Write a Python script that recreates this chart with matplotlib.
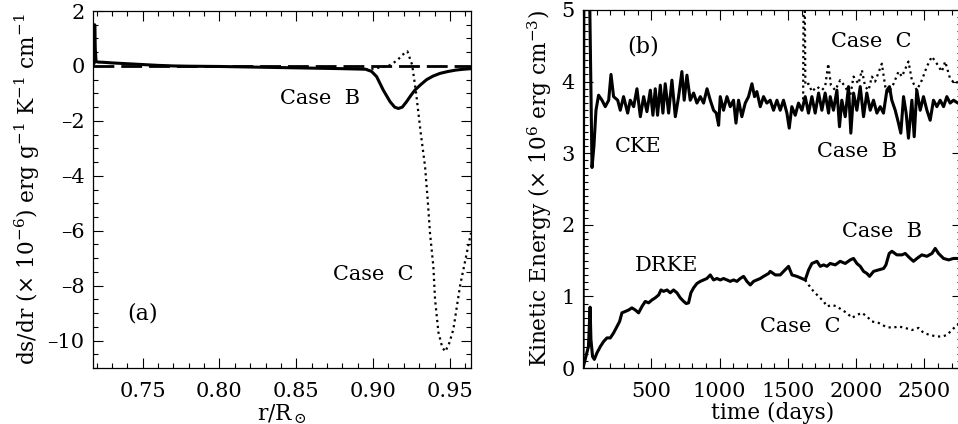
import matplotlib
matplotlib.use("Agg")
import matplotlib.pyplot as plt
from matplotlib.ticker import MultipleLocator

plt.rcParams['font.family'] = ['DejaVu Serif']
plt.rcParams['mathtext.fontset'] = 'dejavuserif'

# ---------------- Panel (a) data ----------------
r_caseB = [0.7177, 0.7185, 0.7188, 0.7192, 0.7197, 0.7210, 0.7250, 0.7300, 0.7400,
           0.7500, 0.7600, 0.7700, 0.7800, 0.8000, 0.8200, 0.8400, 0.8600, 0.8800,
           0.8950, 0.8990, 0.9023, 0.9066, 0.9110, 0.9140, 0.9164, 0.9190, 0.9218,
           0.9245, 0.9272, 0.9310, 0.9348, 0.9390, 0.9436, 0.9490, 0.9540, 0.9590, 0.9637]
dsdr_caseB = [0.05, 0.10, 1.50, 0.60, 0.16, 0.14, 0.13, 0.11, 0.08,
              0.05, 0.02, 0.00, -0.01, -0.02, -0.04, -0.06, -0.08, -0.10,
              -0.12, -0.20, -0.39, -0.88, -1.30, -1.50, -1.55, -1.50, -1.30,
              -1.08, -0.88, -0.68, -0.50, -0.37, -0.27, -0.20, -0.15, -0.12, -0.10]

r_caseC = [0.8950, 0.9000, 0.9050, 0.9100, 0.9130, 0.9160, 0.9190, 0.9223, 0.9254,
           0.9280, 0.9310, 0.9338, 0.9355, 0.9370, 0.9392, 0.9403, 0.9425, 0.9450,
           0.9470, 0.9495, 0.9522, 0.9566, 0.9610, 0.9637]
dsdr_caseC = [-0.12, -0.10, -0.05, 0.00, 0.10, 0.22, 0.40, 0.53, 0.04,
              -1.00, -2.45, -3.66, -4.87, -6.08, -7.30, -8.50, -9.70, -10.25,
              -10.40, -10.10, -9.60, -8.00, -6.80, -6.08]

ref_level = 0.0

# ---------------- Panel (b) data ----------------
t_cke_B = [0, 15, 35, 50, 66, 80, 95, 114, 139, 163, 188, 205, 224, 254, 273, 297,
           327, 346, 371, 395, 420, 444, 468, 493, 512, 529, 546, 566, 585, 602, 627,
           651, 676, 700, 724, 741, 761, 785, 810, 834, 859, 883, 908, 932, 956, 976,
           993, 1005, 1029, 1054, 1078, 1102, 1120, 1139, 1163, 1188, 1212, 1237,
           1256, 1273, 1298, 1322, 1346, 1371, 1395, 1420, 1444, 1468, 1493, 1510,
           1529, 1554, 1578, 1603, 1627, 1651, 1676, 1700, 1725, 1749, 1773, 1798,
           1810, 1834, 1859, 1878, 1895, 1920, 1944, 1961, 1981, 2005, 2030, 2054,
           2078, 2103, 2127, 2152, 2176, 2200, 2225, 2244, 2261, 2286, 2310, 2327,
           2347, 2366, 2383, 2408, 2425, 2444, 2469, 2493, 2518, 2542, 2566, 2591,
           2615, 2640, 2664, 2688, 2713, 2745, 2780]
cke_B = [0.0, 12.0, 9.0, 5.0, 2.80, 3.10, 3.60, 3.81, 3.74, 3.65, 3.74, 4.10, 3.79,
         3.74, 3.60, 3.79, 3.56, 3.74, 3.65, 3.90, 3.51, 3.79, 3.58, 3.88, 3.53,
         3.90, 3.53, 3.95, 3.56, 3.97, 3.56, 4.02, 3.51, 3.79, 4.14, 3.74, 4.09,
         3.74, 3.84, 3.70, 3.79, 3.70, 3.90, 3.74, 3.60, 3.56, 3.39, 3.79, 3.60,
         3.79, 3.65, 3.74, 3.42, 3.74, 3.51, 3.70, 3.79, 3.97, 3.79, 3.86, 3.65,
         3.79, 3.70, 3.74, 3.60, 3.74, 3.60, 3.74, 3.56, 3.35, 3.65, 3.53, 3.70,
         3.60, 3.79, 3.56, 3.79, 3.56, 3.84, 3.60, 3.84, 3.56, 3.79, 3.60, 3.88,
         3.37, 3.74, 3.51, 3.93, 3.28, 3.84, 3.60, 3.93, 3.51, 3.84, 3.60, 3.74,
         3.56, 3.65, 3.56, 3.88, 3.93, 3.74, 3.60, 3.42, 3.28, 3.79, 3.56, 3.21,
         3.74, 3.23, 3.88, 3.60, 3.79, 3.60, 3.46, 3.74, 3.65, 3.74, 3.65, 3.79,
         3.70, 3.74, 3.70, 3.72]

t_cke_C = [1612, 1616, 1622, 1628, 1651, 1676, 1712, 1749, 1773, 1796, 1815, 1847,
           1883, 1920, 1956, 1981, 2017, 2042, 2066, 2091, 2115, 2139, 2188, 2213,
           2237, 2274, 2310, 2335, 2383, 2408, 2444, 2481, 2518, 2554, 2591, 2627,
           2652, 2688, 2725, 2780]
cke_C = [3.75, 5.60, 5.60, 3.95, 3.97, 3.86, 3.93, 3.88, 3.93, 4.25, 3.95, 3.88,
         4.02, 3.93, 3.79, 4.07, 3.97, 4.16, 3.93, 3.88, 4.07, 4.00, 4.25, 3.93,
         3.84, 3.97, 4.14, 4.07, 4.28, 4.02, 3.88, 4.02, 4.21, 4.35, 4.25, 4.14,
         4.28, 4.04, 3.97, 4.05]

t_drke_B = [0, 40, 52, 58, 70, 83, 102, 127, 151, 175, 200, 224, 249, 268, 285, 310,
            334, 358, 383, 407, 432, 456, 480, 505, 529, 554, 571, 590, 615, 639,
            663, 688, 712, 737, 756, 773, 790, 810, 834, 859, 883, 907, 932, 956,
            981, 1005, 1029, 1054, 1078, 1103, 1127, 1151, 1176, 1200, 1225, 1249,
            1273, 1298, 1322, 1359, 1371, 1408, 1444, 1469, 1505, 1530, 1566, 1603,
            1627, 1652, 1676, 1713, 1737, 1762, 1786, 1810, 1847, 1883, 1920, 1957,
            1981, 2005, 2030, 2054, 2079, 2098, 2128, 2164, 2201, 2218, 2242, 2262,
            2298, 2335, 2359, 2396, 2420, 2445, 2481, 2518, 2555, 2579, 2603, 2640,
            2677, 2713, 2745, 2780]
drke_B = [0.0, 0.30, 0.85, 0.40, 0.16, 0.12, 0.21, 0.30, 0.37, 0.42, 0.42, 0.49,
          0.58, 0.65, 0.77, 0.79, 0.81, 0.84, 0.81, 0.77, 0.86, 0.93, 0.91, 0.95,
          0.98, 1.02, 1.09, 1.07, 1.09, 1.05, 1.09, 1.05, 0.98, 0.93, 0.90, 0.91,
          1.05, 1.12, 1.18, 1.21, 1.23, 1.25, 1.30, 1.23, 1.25, 1.23, 1.25, 1.23,
          1.21, 1.23, 1.21, 1.25, 1.28, 1.21, 1.16, 1.21, 1.23, 1.25, 1.28, 1.32,
          1.35, 1.30, 1.30, 1.35, 1.42, 1.30, 1.28, 1.25, 1.23, 1.37, 1.46, 1.49,
          1.42, 1.44, 1.42, 1.46, 1.44, 1.49, 1.46, 1.51, 1.53, 1.46, 1.42, 1.35,
          1.32, 1.28, 1.35, 1.37, 1.39, 1.44, 1.60, 1.63, 1.58, 1.58, 1.60, 1.53,
          1.49, 1.53, 1.58, 1.56, 1.60, 1.67, 1.60, 1.53, 1.51, 1.53, 1.53, 1.52]

t_drke_C = [1627, 1652, 1688, 1725, 1762, 1786, 1823, 1859, 1896, 1932, 1969, 2005,
            2042, 2079, 2115, 2164, 2213, 2262, 2310, 2359, 2408, 2457, 2494, 2542,
            2591, 2628, 2664, 2701, 2738, 2780]
drke_C = [1.23, 1.16, 1.07, 1.00, 0.93, 0.86, 0.88, 0.86, 0.81, 0.77, 0.70, 0.74,
          0.77, 0.72, 0.65, 0.63, 0.58, 0.56, 0.58, 0.56, 0.53, 0.56, 0.49, 0.46,
          0.44, 0.44, 0.46, 0.53, 0.60, 0.66]

# tick labels
a_xticks = [0.75, 0.80, 0.85, 0.90, 0.95]
a_xticklabels = ['0.75', '0.80', '0.85', '0.90', '0.95']
a_yticks = [-10, -8, -6, -4, -2, 0, 2]
a_yticklabels = ['\u201310', '\u20138', '\u20136', '\u20134', '\u20132', '0', '2']
b_xticks = [500, 1000, 1500, 2000, 2500]
b_yticks = [0, 1, 2, 3, 4, 5]

# ---------------- Figure ----------------
FS = 15
LFS = 15.6
fig = plt.figure(figsize=(9.58, 4.24), dpi=100)
W, H = 958.0, 424.0
axA = fig.add_axes([93 / W, 1 - 368 / H, (471 - 93) / W, (368 - 11) / H])
axB = fig.add_axes([583 / W, 1 - 368 / H, (962 - 583) / W, (368 - 10) / H])

for ax in (axA, axB):
    for s in ax.spines.values():
        s.set_linewidth(0.9)
    ax.tick_params(which='both', direction='in', top=True, right=True,
                   labelsize=FS, width=0.8, color='black')
    ax.tick_params(which='major', length=7)
    ax.tick_params(which='minor', length=3.5)
    ax.tick_params(axis='x', which='both', pad=10)
    ax.tick_params(axis='y', which='both', pad=6)

# Panel (a)
axA.axhline(ref_level, color='black', lw=2.0, dashes=(7.5, 2.5))
axA.plot(r_caseC, dsdr_caseC, color='black', lw=1.6, linestyle=':')
axA.plot(r_caseB, dsdr_caseB, color='black', lw=2.2)
axA.set_xlim(0.7177, 0.9637)
axA.set_ylim(-11, 2)
axA.xaxis.set_minor_locator(MultipleLocator(0.01))
axA.yaxis.set_minor_locator(MultipleLocator(0.5))
axA.set_xticks(a_xticks)
axA.set_xticklabels(a_xticklabels)
axA.set_yticks(a_yticks)
axA.set_yticklabels(a_yticklabels)
axA.set_xlabel(r'r/R$_\odot$', fontsize=LFS, labelpad=1)
axA.set_ylabel(r'ds/dr ($\times$ 10$^{-6}$) erg g$^{-1}$ K$^{-1}$ cm$^{-1}$',
               fontsize=LFS, labelpad=4)
axA.text(0.8654, -1.2, 'Case  B', fontsize=FS, ha='center', va='center')
axA.text(0.900, -7.6, 'Case  C', fontsize=FS, ha='center', va='center')
axA.text(0.7498, -9.0, '(a)', fontsize=FS + 1, ha='center', va='center')

# Panel (b)
axB.plot(t_cke_C, cke_C, color='black', lw=1.6, linestyle=':')
axB.plot(t_drke_C, drke_C, color='black', lw=1.6, linestyle=':')
axB.plot(t_cke_B, cke_B, color='black', lw=2.2)
axB.plot(t_drke_B, drke_B, color='black', lw=2.2)
axB.set_xlim(0, 2775)
axB.set_ylim(0, 5)
axB.xaxis.set_minor_locator(MultipleLocator(100))
axB.yaxis.set_minor_locator(MultipleLocator(0.1))
axB.set_xticks(b_xticks)
axB.set_yticks(b_yticks)
axB.set_xlabel('time (days)', fontsize=LFS, labelpad=1)
axB.set_ylabel(r'Kinetic Energy ($\times$ 10$^{6}$ erg cm$^{-3}$)', fontsize=LFS, labelpad=5)
axB.text(441, 4.49, '(b)', fontsize=FS + 1, ha='center', va='center')
axB.text(2113, 4.56, 'Case  C', fontsize=FS, ha='center', va='center')
axB.text(405, 3.09, 'CKE', fontsize=FS, ha='center', va='center')
axB.text(2003, 3.02, 'Case  B', fontsize=FS, ha='center', va='center')
axB.text(2186, 1.91, 'Case  B', fontsize=FS, ha='center', va='center')
axB.text(612, 1.43, 'DRKE', fontsize=FS, ha='center', va='center')
axB.text(1589, 0.58, 'Case  C', fontsize=FS, ha='center', va='center')

fig.savefig('out.png', dpi=100)
